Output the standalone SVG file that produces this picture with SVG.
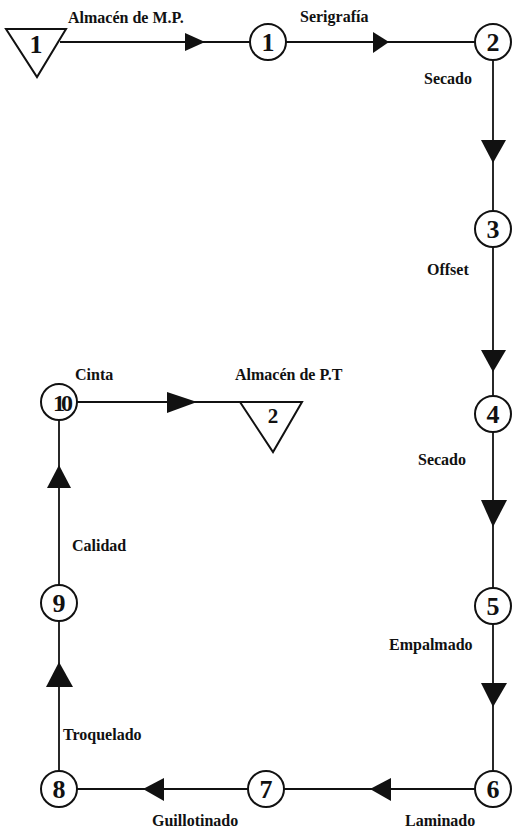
<svg xmlns="http://www.w3.org/2000/svg" width="513" height="834" viewBox="0 0 513 834">
<style>
.ln{stroke:#111;stroke-width:1.8;fill:none}
.nd{stroke:#111;stroke-width:2;fill:#fff}
.ah{fill:#111;stroke:none}
.num{font-family:"Liberation Serif",serif;font-weight:bold;font-size:26px;fill:#111;text-anchor:middle}
.lb{font-family:"Liberation Serif",serif;font-weight:bold;font-size:16px;fill:#111}
</style>
<rect width="513" height="834" fill="#fff"/>
<g id="connectors">
<line class="ln" x1="60" y1="42" x2="250" y2="42"/>
<line class="ln" x1="286" y1="42" x2="475" y2="42"/>
<line class="ln" x1="493" y1="60" x2="493" y2="211"/>
<line class="ln" x1="493" y1="247" x2="493" y2="396"/>
<line class="ln" x1="493" y1="432" x2="493" y2="588"/>
<line class="ln" x1="493" y1="624" x2="493" y2="771"/>
<line class="ln" x1="475" y1="789" x2="284" y2="789"/>
<line class="ln" x1="248" y1="789" x2="77" y2="789"/>
<line class="ln" x1="59" y1="771" x2="59" y2="621"/>
<line class="ln" x1="59" y1="585" x2="59" y2="420"/>
<line class="ln" x1="77" y1="402" x2="246" y2="402"/>
<polygon class="ah" points="185,33 205,42 185,51"/>
<polygon class="ah" points="373,32 389,42 373,53"/>
<polygon class="ah" points="481,140 506,140 493,163"/>
<polygon class="ah" points="481,350 506,350 493,372"/>
<polygon class="ah" points="481,500 507,500 493,527"/>
<polygon class="ah" points="481,683 507,683 493,707"/>
<polygon class="ah" points="370,789 391,778 391,801"/>
<polygon class="ah" points="143,789 164,778 164,801"/>
<polygon class="ah" points="59,662 46,687 73,687"/>
<polygon class="ah" points="59,465 47,488 71,488"/>
<polygon class="ah" points="197,402 167,392 167,413"/>
</g>
<g id="store1"><polygon class="nd" points="6,29 66,29 37,77"/><text class="num" x="36" y="53">1</text></g>
<g id="op1"><circle class="nd" cx="268" cy="42" r="18"/><text class="num" x="268" y="51">1</text></g>
<g id="op2"><circle class="nd" cx="493" cy="42" r="18"/><text class="num" x="493" y="51">2</text></g>
<g id="op3"><circle class="nd" cx="493" cy="229" r="18"/><text class="num" x="493" y="238">3</text></g>
<g id="op4"><circle class="nd" cx="493" cy="414" r="18"/><text class="num" x="493" y="423">4</text></g>
<g id="op5"><circle class="nd" cx="493" cy="606" r="18"/><text class="num" x="493" y="615">5</text></g>
<g id="op6"><circle class="nd" cx="493" cy="789" r="18"/><text class="num" x="493" y="798">6</text></g>
<g id="op7"><circle class="nd" cx="266" cy="789" r="18"/><text class="num" x="266" y="798">7</text></g>
<g id="op8"><circle class="nd" cx="59" cy="789" r="18"/><text class="num" x="59" y="798">8</text></g>
<g id="op9"><circle class="nd" cx="59" cy="603" r="18"/><text class="num" x="59" y="612">9</text></g>
<g id="op10"><circle class="nd" cx="59" cy="402" r="18"/><text class="num" x="61" y="411" letter-spacing="-4" style="font-size:24px">10</text></g>
<g id="store2"><polygon class="nd" points="240,402 302,402 273,452"/><text class="num" x="273" y="423" style="font-size:21px">2</text></g>
<g id="labels">
<text class="lb" x="68" y="23">Almacén de M.P.</text>
<text class="lb" x="300" y="22">Serigrafía</text>
<text class="lb" x="424" y="84">Secado</text>
<text class="lb" x="427" y="275">Offset</text>
<text class="lb" x="75" y="380">Cinta</text>
<text class="lb" x="235" y="380">Almacén de P.T</text>
<text class="lb" x="418" y="465">Secado</text>
<text class="lb" x="72" y="551">Calidad</text>
<text class="lb" x="389" y="650">Empalmado</text>
<text class="lb" x="63" y="740">Troquelado</text>
<text class="lb" x="152" y="826">Guillotinado</text>
<text class="lb" x="405" y="826">Laminado</text>
</g>
</svg>
